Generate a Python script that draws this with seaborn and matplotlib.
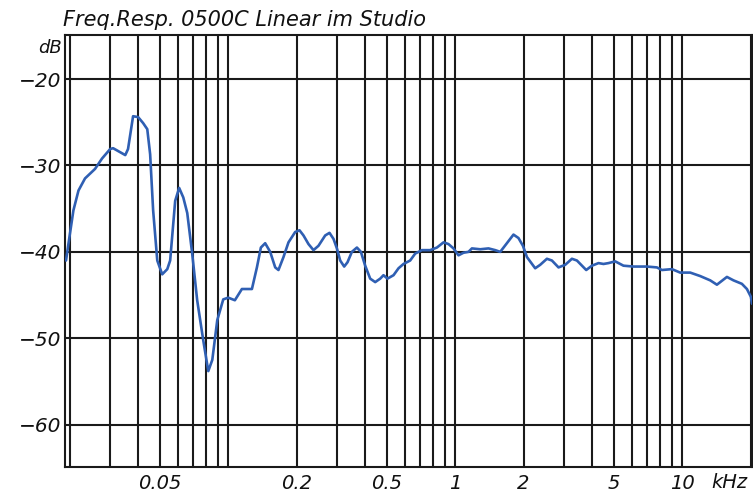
import matplotlib
matplotlib.use("Agg")
import matplotlib.pyplot as plt
import seaborn as sns
import pandas as pd
from matplotlib.ticker import FixedLocator, NullFormatter

# ---- data ----
freq_khz = [0.0193, 0.0199, 0.0208, 0.0219, 0.0234, 0.0259, 0.0278, 0.0302, 0.0311, 0.0352,
            0.0362, 0.0381, 0.0401, 0.0422, 0.0440, 0.0453, 0.0467, 0.0487, 0.0512, 0.0539,
            0.0555, 0.0584, 0.0608, 0.0634, 0.0660, 0.0694, 0.0730, 0.0776, 0.0817, 0.0851,
            0.0895, 0.0951, 0.100, 0.107, 0.1149, 0.1272, 0.1338, 0.1393, 0.1455, 0.1531,
            0.1611, 0.1665, 0.1752, 0.1843, 0.1973, 0.2061, 0.2146, 0.2258, 0.2375, 0.2498,
            0.2675, 0.2794, 0.2910, 0.3012, 0.3114, 0.3243, 0.3354, 0.3506, 0.3690, 0.3842,
            0.4013, 0.4222, 0.4442, 0.4673, 0.4831, 0.5031, 0.5350, 0.5627, 0.5920, 0.6333,
            0.6664, 0.7135, 0.7759, 0.8307, 0.8882, 0.9343, 0.9829, 1.034, 1.088, 1.144,
            1.185, 1.289, 1.402, 1.501, 1.579, 1.689, 1.806, 1.900, 1.988, 2.070,
            2.251, 2.368, 2.535, 2.667, 2.852, 3.052, 3.267, 3.437, 3.777, 4.003,
            4.279, 4.501, 4.735, 5.068, 5.512, 6.104, 6.990, 7.737, 8.140, 9.009,
            9.799, 10.85, 12.00, 13.29, 14.22, 15.74, 16.83, 18.32, 19.28, 20.07, 20.3]
level_db = [-41.0, -38.6, -35.2, -32.9, -31.5, -30.4, -29.2, -28.1, -28.0, -28.8,
            -28.1, -24.3, -24.4, -25.1, -25.8, -28.7, -35.2, -41.0, -42.6, -42.0,
            -41.0, -34.1, -32.6, -33.7, -35.5, -40.2, -45.6, -50.2, -53.8, -52.5,
            -47.9, -45.5, -45.3, -45.6, -44.3, -44.3, -41.8, -39.5, -39.0, -40.0,
            -41.8, -42.1, -40.6, -38.9, -37.7, -37.5, -38.1, -39.1, -39.8, -39.3,
            -38.1, -37.8, -38.5, -39.6, -41.0, -41.7, -41.2, -40.0, -39.5, -40.0,
            -41.6, -43.1, -43.5, -43.1, -42.7, -43.1, -42.7, -41.9, -41.4, -41.0,
            -40.2, -39.8, -39.8, -39.5, -38.9, -39.1, -39.6, -40.4, -40.1, -40.0,
            -39.6, -39.7, -39.6, -39.8, -40.0, -39.0, -38.0, -38.4, -39.3, -40.6,
            -41.9, -41.5, -40.8, -41.0, -41.8, -41.5, -40.8, -41.0, -42.1, -41.6,
            -41.3, -41.4, -41.3, -41.1, -41.6, -41.7, -41.7, -41.8, -42.1, -42.0,
            -42.4, -42.4, -42.8, -43.3, -43.8, -42.9, -43.3, -43.7, -44.3, -45.2, -46.0]

grid_freqs = [0.02, 0.03, 0.04, 0.05, 0.06, 0.07, 0.08, 0.09,
              0.1, 0.2, 0.3, 0.4, 0.5, 0.6, 0.7, 0.8, 0.9,
              1, 2, 3, 4, 5, 6, 7, 8, 9, 10, 20]
label_freqs = [0.05, 0.2, 0.5, 1, 2, 5, 10]
label_texts = ["0.05", "0.2", "0.5", "1", "2", "5", "10"]
db_ticks = [-20, -30, -40, -50, -60]
db_labels = ["\u221220", "\u221230", "\u221240", "\u221250", "\u221260"]
title = "Freq.Resp. 0500C Linear im Studio"

sns.set_theme(style="white")
plt.rcParams["font.family"] = ["DejaVu Sans"]

fig = plt.figure(figsize=(7.53, 4.92), dpi=100)
ax = fig.add_axes([65 / 753, 1 - 467 / 492, (752 - 65) / 753, (467 - 35) / 492])

df = pd.DataFrame({"f": freq_khz, "db": level_db})
ax.set_xscale("log")
sns.lineplot(data=df, x="f", y="db", ax=ax, color="#2f5fb3", linewidth=1.9,
             estimator=None, sort=False, zorder=5)

ax.set_xlim(0.0191, 20.3)
ax.set_ylim(-64.9, -14.9)

# grid
for g in grid_freqs:
    ax.axvline(g, color="#1a1a1a", linewidth=1.5, zorder=1)
for d in db_ticks:
    ax.axhline(d, color="#1a1a1a", linewidth=1.5, zorder=1)

ax.xaxis.set_major_locator(FixedLocator(label_freqs))
ax.xaxis.set_minor_locator(FixedLocator([]))
ax.xaxis.set_minor_formatter(NullFormatter())
ax.set_xticks(label_freqs)
ax.set_xticklabels(label_texts, fontsize=14, fontstyle="italic")
ax.set_yticks(db_ticks)
ax.set_yticklabels(db_labels, fontsize=14.5, fontstyle="italic")
ax.tick_params(axis="both", length=0, colors="#111111")
ax.tick_params(axis="x", pad=5)
ax.tick_params(axis="y", pad=3)
ax.set_xlabel("")
ax.set_ylabel("")

for s in ax.spines.values():
    s.set_visible(True)
    s.set_color("#1a1a1a")
    s.set_linewidth(1.5)

ax.text(-0.005, 0.99, "dB", transform=ax.transAxes, ha="right", va="top",
        fontsize=13, fontstyle="italic", color="#111111")
ax.text(0.967, -0.015, "kHz", transform=ax.transAxes, ha="center", va="top",
        fontsize=14, fontstyle="italic", color="#111111")
fig.text(63 / 753, 1 - 26 / 492, title, ha="left", va="baseline",
         fontsize=15, fontstyle="italic", color="#111111")

fig.savefig("out.png", dpi=100, facecolor="white")
